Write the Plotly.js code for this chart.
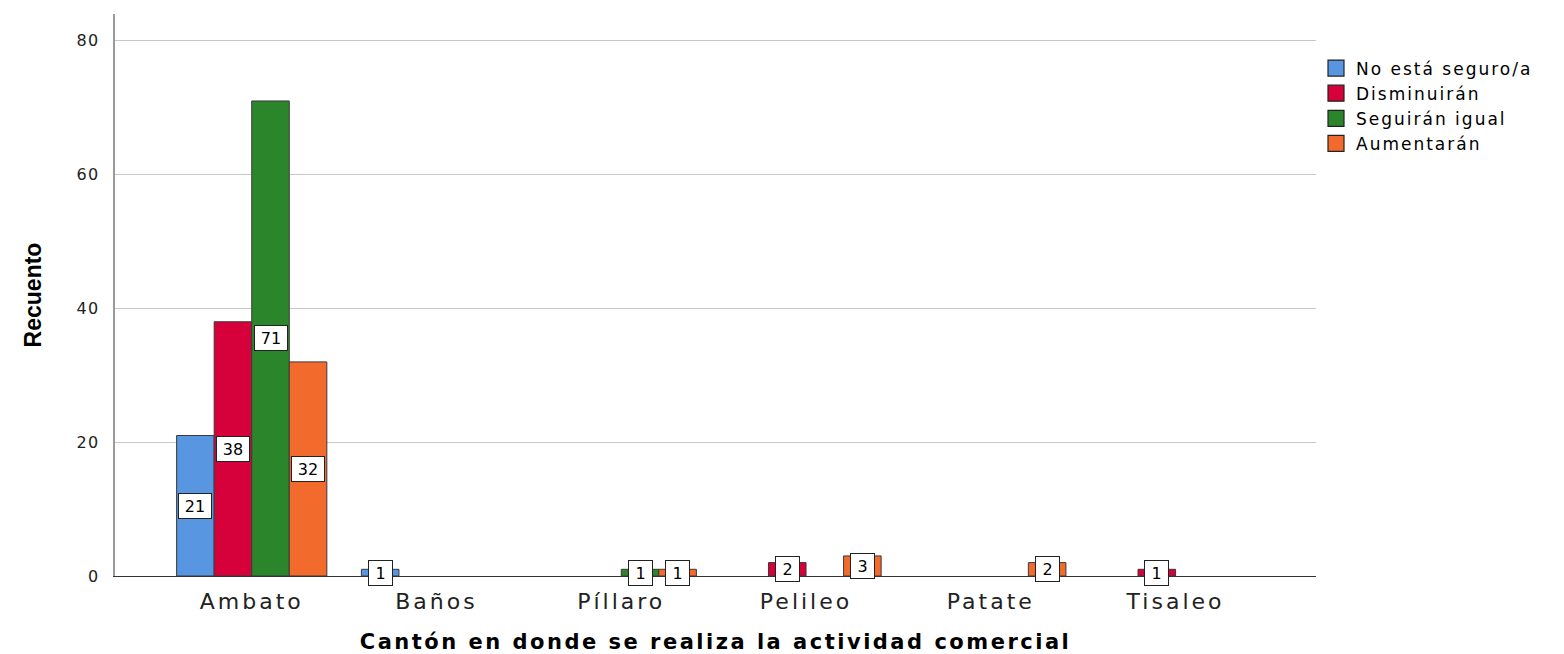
<!DOCTYPE html>
<html>
<head>
<meta charset="utf-8">
<script src="https://cdn.plot.ly/plotly-3.0.1.min.js"></script>
<style>
  html, body { margin: 0; padding: 0; background: #fff; }
  #chart { width: 1564px; height: 654px; }
  .xtick text { letter-spacing: 3px; }
  .ytick text { letter-spacing: 1.5px; }
  .legendtext { letter-spacing: 2px; }
  .g-xtitle text { letter-spacing: 2.5px; }
</style>
</head>
<body>
<div id="chart"></div>
<script>
// ---- Data ----
const categories = ['Ambato', 'Baños', 'Píllaro', 'Pelileo', 'Patate', 'Tisaleo'];
const seriesNames = ['No está seguro/a', 'Disminuirán', 'Seguirán igual', 'Aumentarán'];
const noSeguro      = [21, 1, null, null, null, null];
const disminuiran   = [38, null, null, 2, null, 1];
const seguiranIgual = [71, null, 1, null, null, null];
const aumentaran    = [32, null, 1, 3, 2, null];
const yTicks = [0, 20, 40, 60, 80];

// ---- Styles ----
const seriesValues = [noSeguro, disminuiran, seguiranIgual, aumentaran];
const colors = ['#5896e2', '#d6003a', '#2b862b', '#f26b2c'];
const bargap = 0.187;
const nSeries = seriesValues.length;
const barW = (1 - bargap) / nSeries;

// bars (legend drawn by companion square-marker traces)
const traces = seriesValues.map((vals, j) => ({
  type: 'bar',
  name: seriesNames[j],
  x: categories,
  y: vals,
  legendgroup: 'g' + j,
  showlegend: false,
  marker: { color: colors[j], line: { color: '#3a3a3a', width: 1 } },
  hoverinfo: 'x+y+name'
}));
seriesNames.forEach((name, j) => {
  traces.push({
    type: 'scatter',
    mode: 'markers',
    name: name,
    x: [categories[0]],
    y: [null],
    legendgroup: 'g' + j,
    showlegend: true,
    marker: { symbol: 'square', size: 16, color: colors[j], line: { color: '#222', width: 1.2 } },
    hoverinfo: 'skip'
  });
});

const annotations = [];
seriesValues.forEach((vals, j) => {
  vals.forEach((v, i) => {
    if (v === null || v === undefined) return;
    const label = String(v);
    annotations.push({
      x: i + (j - (nSeries - 1) / 2) * barW,
      y: v / 2,
      xref: 'x', yref: 'y',
      text: label,
      showarrow: false,
      font: { family: 'DejaVu Sans, Arial, sans-serif', size: 16, color: '#000' },
      width: label.length > 1 ? 28 : 19,
      height: 20,
      align: 'center',
      valign: 'middle',
      bgcolor: '#ffffff',
      bordercolor: '#222222',
      borderwidth: 1,
      borderpad: 2
    });
  });
});

const layout = {
  width: 1564, height: 654,
  margin: { l: 115, r: 248, t: 14, b: 78, pad: 0 },
  paper_bgcolor: '#ffffff',
  plot_bgcolor: '#ffffff',
  barmode: 'group',
  bargap: bargap,
  bargroupgap: 0,
  showlegend: true,
  legend: {
    x: 1.0, xanchor: 'left', y: 0.935, yanchor: 'top',
    font: { family: 'DejaVu Sans, Arial, sans-serif', size: 17, color: '#000' },
    traceorder: 'normal',
    tracegroupgap: 0,
    itemwidth: 30,
    bgcolor: 'rgba(0,0,0,0)'
  },
  xaxis: {
    type: 'category',
    range: [-0.74, 5.76],
    showgrid: false,
    showline: true, linecolor: '#333333', linewidth: 1,
    ticks: '',
    ticklabelstandoff: 6,
    tickfont: { family: 'DejaVu Sans, Arial, sans-serif', size: 22, color: '#222' },
    title: {
      text: 'Cantón en donde se realiza la actividad comercial',
      font: { family: 'DejaVu Sans, Arial, sans-serif', size: 21, color: '#000', weight: 'bold' },
      standoff: 20
    },
    fixedrange: true
  },
  yaxis: {
    range: [0, 84],
    tickvals: yTicks,
    ticktext: yTicks.map(String),
    showgrid: true, gridcolor: '#c8c8c8', gridwidth: 1,
    zeroline: false,
    showline: true, linecolor: '#9a9a9a', linewidth: 2,
    ticks: '',
    ticklabelstandoff: 10,
    tickfont: { family: 'DejaVu Sans, Arial, sans-serif', size: 16, color: '#222' },
    title: {
      text: 'Recuento',
      font: { family: 'Liberation Sans, Arial, sans-serif', size: 23, color: '#000', weight: 'bold' },
      standoff: 28
    },
    fixedrange: true
  },
  annotations: annotations
};

Plotly.newPlot('chart', traces, layout, { displayModeBar: false, staticPlot: true });
</script>
</body>
</html>
